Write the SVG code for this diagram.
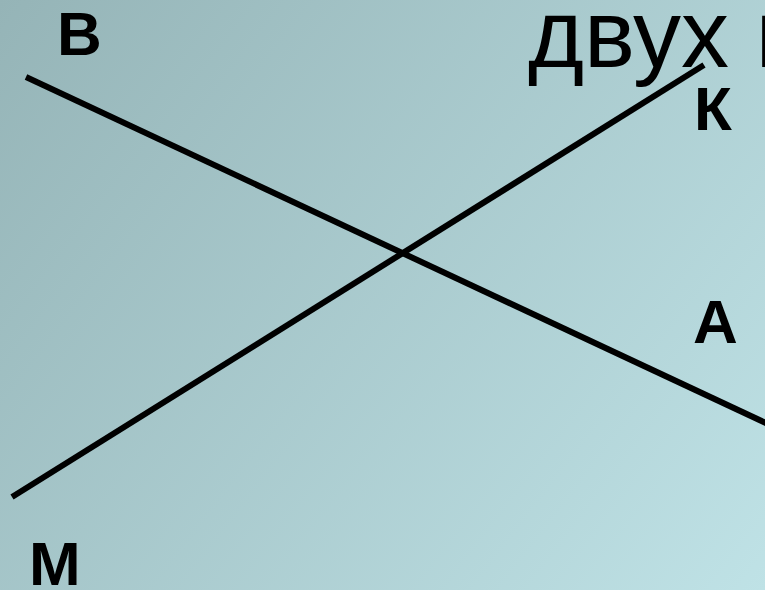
<svg xmlns="http://www.w3.org/2000/svg" width="765" height="590" viewBox="0 0 765 590">
  <defs>
    <linearGradient id="bg" x1="0" y1="0" x2="765" y2="590" gradientUnits="userSpaceOnUse">
      <stop offset="0" stop-color="#95b4b7"/>
      <stop offset="1" stop-color="#bfe2e6"/>
    </linearGradient>
    <style>
      .lbl { font-family: "Liberation Sans", Arial, sans-serif; font-weight: bold; font-size: 62px; fill: #000; }
      .title { font-family: "Liberation Sans", Arial, sans-serif; font-size: 96px; fill: #000; }
      .ln { stroke: #000; stroke-width: 6; stroke-linecap: butt; fill: none; }
    </style>
  </defs>
  <rect x="0" y="0" width="765" height="590" fill="url(#bg)"/>
  <text class="title" x="528" y="67">двух п</text>
  <g id="connectors">
    <line class="ln" x1="26" y1="77" x2="768" y2="424"/>
    <line class="ln" x1="12" y1="497" x2="704" y2="65"/>
  </g>
  <g id="B"><text class="lbl" x="57" y="55">В</text></g>
  <g id="K"><text class="lbl" x="694" y="130">К</text></g>
  <g id="A"><text class="lbl" x="693" y="343">А</text></g>
  <g id="M"><text class="lbl" x="29" y="585">М</text></g>
</svg>
